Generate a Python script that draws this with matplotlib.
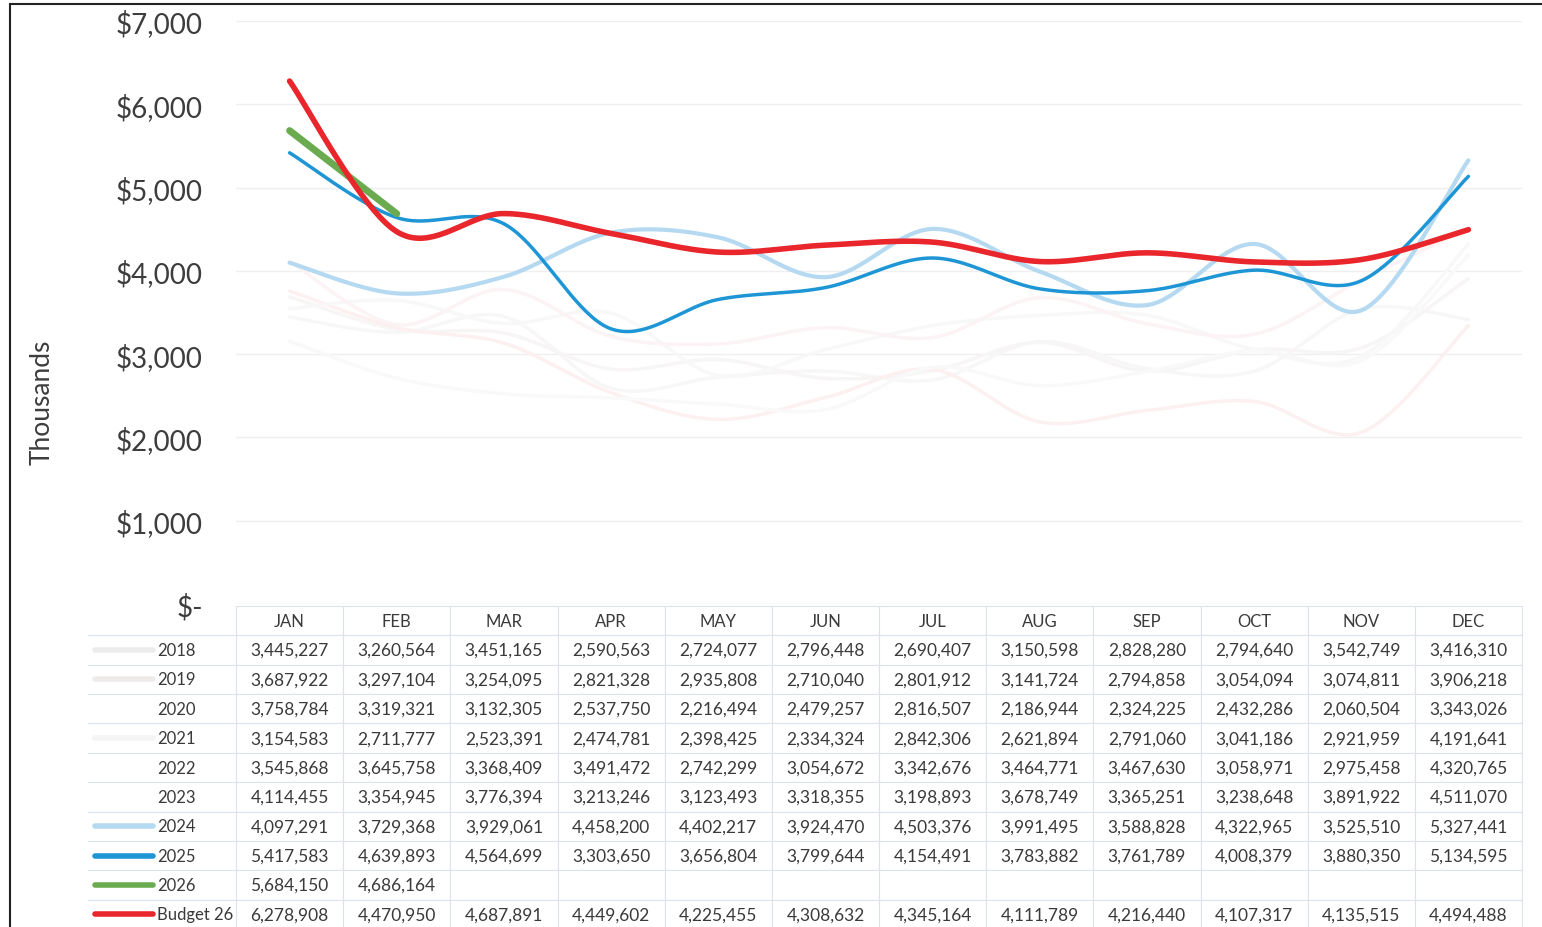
import numpy as np
import matplotlib.pyplot as plt
from matplotlib.patches import Rectangle

plt.rcParams['font.family'] = ['Lato', 'DejaVu Sans']

months = ['JAN', 'FEB', 'MAR', 'APR', 'MAY', 'JUN', 'JUL', 'AUG', 'SEP', 'OCT', 'NOV', 'DEC']

y2018 = [3445227, 3260564, 3451165, 2590563, 2724077, 2796448, 2690407, 3150598, 2828280, 2794640, 3542749, 3416310]
y2019 = [3687922, 3297104, 3254095, 2821328, 2935808, 2710040, 2801912, 3141724, 2794858, 3054094, 3074811, 3906218]
y2020 = [3758784, 3319321, 3132305, 2537750, 2216494, 2479257, 2816507, 2186944, 2324225, 2432286, 2060504, 3343026]
y2021 = [3154583, 2711777, 2523391, 2474781, 2398425, 2334324, 2842306, 2621894, 2791060, 3041186, 2921959, 4191641]
y2022 = [3545868, 3645758, 3368409, 3491472, 2742299, 3054672, 3342676, 3464771, 3467630, 3058971, 2975458, 4320765]
y2023 = [4114455, 3354945, 3776394, 3213246, 3123493, 3318355, 3198893, 3678749, 3365251, 3238648, 3891922, 4511070]
y2024 = [4097291, 3729368, 3929061, 4458200, 4402217, 3924470, 4503376, 3991495, 3588828, 4322965, 3525510, 5327441]
y2025 = [5417583, 4639893, 4564699, 3303650, 3656804, 3799644, 4154491, 3783882, 3761789, 4008379, 3880350, 5134595]
y2026 = [5684150, 4686164]
budget26 = [6278908, 4470950, 4687891, 4449602, 4225455, 4308632, 4345164, 4111789, 4216440, 4107317, 4135515, 4494488]

labels = ['2018', '2019', '2020', '2021', '2022', '2023', '2024', '2025', '2026', 'Budget 26']
series = [y2018, y2019, y2020, y2021, y2022, y2023, y2024, y2025, y2026, budget26]
colors = ['#f7f7f7', '#f8f5f5', '#fcf0f1', '#f9f9f9', '#f8f8f8', '#fbf3f4',
          '#b4d9f0', '#1e96d6', '#6aab4f', '#e8262c']
key_colors = ['#ececec', '#efebeb', '#ffffff', '#f4f4f4', '#ffffff', '#ffffff',
              '#b4d9f0', '#1e96d6', '#6aab4f', '#e8262c']
widths = [2.5, 2.5, 2.5, 2.5, 2.5, 2.5, 3, 2.5, 5, 4]


def smooth(vals, n=40):
    # catmull-rom curve through the points, like Excel's smoothed line
    p = np.asarray(vals, dtype=float)
    x = np.arange(len(p), dtype=float)
    if len(p) < 3:
        return x, p
    pe = np.concatenate([[p[0]], p, [p[-1]]])
    xe = np.concatenate([[x[0]], x, [x[-1]]])
    xs, ys = [], []
    t = np.linspace(0, 1, n, endpoint=False)
    for i in range(len(p) - 1):
        for arr, out in ((xe, xs), (pe, ys)):
            p0, p1, p2, p3 = arr[i], arr[i + 1], arr[i + 2], arr[i + 3]
            out.extend(0.5 * (2 * p1 + (-p0 + p2) * t + (2 * p0 - 5 * p1 + 4 * p2 - p3) * t ** 2
                              + (-p0 + 3 * p1 - 3 * p2 + p3) * t ** 3))
    xs.append(x[-1])
    ys.append(p[-1])
    return np.array(xs), np.array(ys)


fig = plt.figure(figsize=(15.42, 9.28), dpi=100)
ax = fig.add_axes([236 / 1542, (928 - 605) / 928, (1522 - 236) / 1542, (605 - 22) / 928])
ax.set_xlim(-0.5, 11.5)
ax.set_ylim(0, 7000)

for s, c, w in zip(series, colors, widths):
    xs, ys = smooth(np.array(s) / 1000)
    ax.plot(xs, ys, color=c, lw=w, solid_capstyle='round')

ax.set_yticks(range(0, 8000, 1000))
ax.set_yticklabels(['$-' if v == 0 else f'${v:,}' for v in range(0, 8000, 1000)],
                   fontsize=20, color='#3d3d3d')
ax.set_xticks([])
ax.tick_params(axis='y', length=0, pad=24)
ax.yaxis.grid(True, color='#efefef', lw=1)
for sp in ax.spines.values():
    sp.set_visible(False)

fig.text(42 / 1542, (928 - 402) / 928, 'Thousands', rotation=90, fontsize=19,
         color='#3d3d3d', ha='center', va='center')

# data table under the plot
h = 323 / 583
off = 2 / 583
rows = len(labels)
cell_text = [[f'{v:,}' for v in s] + [''] * (12 - len(s)) for s in series]
tbl = ax.table(cellText=cell_text, colLabels=months, cellLoc='center',
               bbox=[0, -h - off, 1, h])
tbl.auto_set_font_size(False)
tbl.set_fontsize(12.5)
for (r, c), cell in tbl.get_celld().items():
    cell.set_edgecolor('#dde3ec')
    cell.set_linewidth(0.8)
    cell.get_text().set_color('#3a3a3a')
    if r == 0:
        cell.get_text().set_fontsize(12)

rh = h / (rows + 1)
lx0 = -148 / 1286
for i, (lab, c) in enumerate(zip(labels, key_colors)):
    top = -off - (i + 1) * rh
    yc = top - rh / 2
    ax.plot([lx0, 0], [top, top], transform=ax.transAxes, color='#dde3ec', lw=0.8, clip_on=False)
    ax.plot([-141 / 1286, -83 / 1286], [yc, yc], transform=ax.transAxes, color=c,
            lw=4, clip_on=False, solid_capstyle='round')
    ax.text(-79 / 1286, yc, lab, transform=ax.transAxes, ha='left', va='center',
            fontsize=12, color='#3a3a3a')

fig.add_artist(Rectangle((10 / 1542, -0.1), 2, 1.1 - 5 / 928, transform=fig.transFigure,
                         fill=False, ec='#222222', lw=1.5))

fig.savefig('out.png', dpi=100)
